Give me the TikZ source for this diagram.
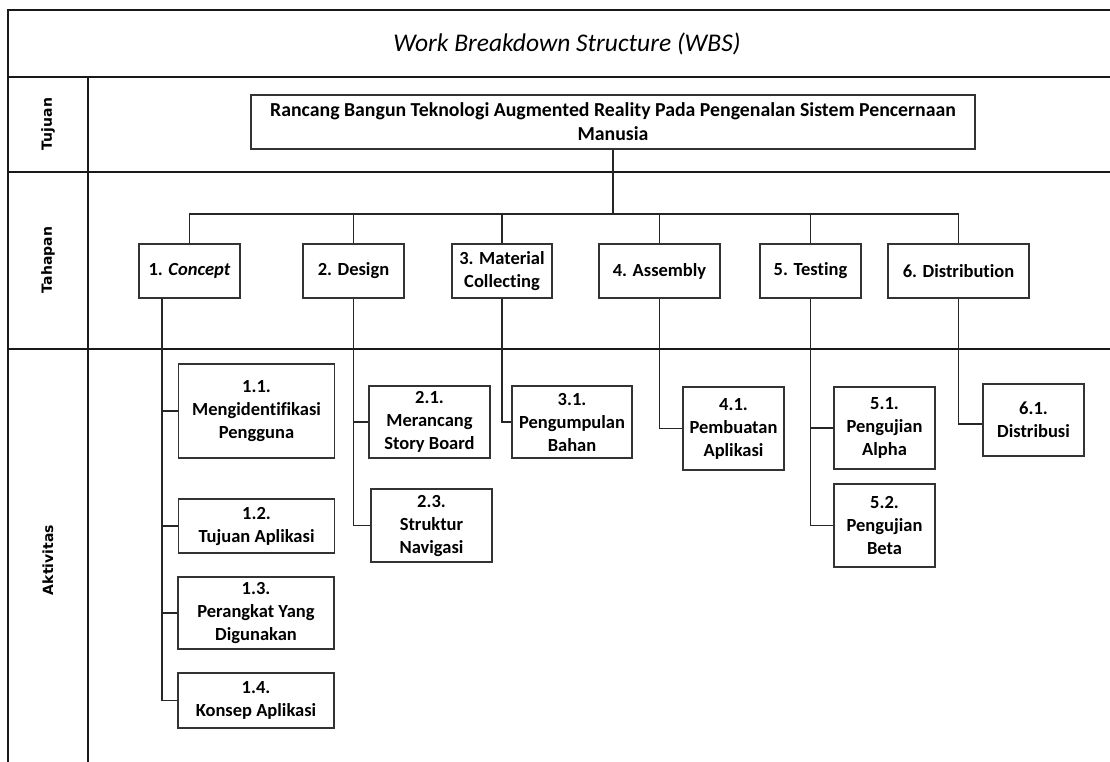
\documentclass[tikz,border=0pt]{standalone}
\usepackage{fontspec}
\setmainfont{Carlito}[Ligatures=NoCommon]
\newfontfamily\labelfont{DejaVu Sans}
\begin{document}
\begin{tikzpicture}[x=1pt,y=-1pt,
  frame/.style={line width=1.4pt, black!90},
  box/.style={draw=black!80, line width=1.2pt, fill=white, align=center, inner sep=2pt,
    font=\fontsize{18.5}{23}\selectfont\bfseries},
  conn/.style={line width=1.1pt, black!85},
  rowlabel/.style={rotate=90, font=\labelfont\bfseries\fontsize{14}{16}\selectfont}]
\useasboundingbox (0,0) rectangle (1110,762);
% frame
\draw[frame] (1110,10) -- (8,10) -- (8,762);
\draw[frame] (8,77) -- (1110,77);
\draw[frame] (8,172) -- (1110,172);
\draw[frame] (8,349) -- (1110,349);
\draw[frame] (88,77) -- (88,762);
% title and row labels
\node[font=\fontsize{25.5}{30}\selectfont\itshape] (title) at (567,44) {Work Breakdown Structure (WBS)};
\node[rowlabel] (ltujuan) at (48,124) {Tujuan};
\node[rowlabel] (ltahapan) at (48,260) {Tahapan};
\node[rowlabel] (laktivitas) at (48,560) {Aktivitas};
% goal
\node[box, minimum width=724pt, minimum height=54pt, font=\fontsize{19.8}{24}\selectfont\bfseries] (main) at (613,122)
  {Rancang Bangun Teknologi Augmented Reality Pada Pengenalan Sistem Pencernaan\\Manusia};
% stages
\node[box, minimum width=101pt, minimum height=54pt] (c1) at (189.5,271) {1. \textit{Concept}};
\node[box, minimum width=101pt, minimum height=54pt] (c2) at (353.5,271) {2. Design};
\node[box, minimum width=100pt, minimum height=54pt] (c3) at (502,271) {3. Material\\Collecting};
\node[box, minimum width=121pt, minimum height=54pt] (c4) at (659.5,271) {4. Assembly};
\node[box, minimum width=101pt, minimum height=54pt] (c5) at (810.5,271) {5. Testing};
\node[box, minimum width=141pt, minimum height=54pt] (c6) at (958.5,271) {6. Distribution};
% activities
\node[box, minimum width=156pt, minimum height=94pt] (a11) at (256.5,411) {1.1.\\Mengidentifikasi\\Pengguna};
\node[box, minimum width=156pt, minimum height=54pt] (a12) at (256.5,526) {1.2.\\Tujuan Aplikasi};
\node[box, minimum width=156pt, minimum height=72pt] (a13) at (256,613) {1.3.\\Perangkat Yang\\Digunakan};
\node[box, minimum width=156pt, minimum height=55pt] (a14) at (256,700.5) {1.4.\\Konsep Aplikasi};
\node[box, minimum width=121pt, minimum height=72pt] (a21) at (429.5,422) {2.1.\\Merancang\\Story Board};
\node[box, minimum width=121pt, minimum height=73pt] (a23) at (431.5,525.5) {2.3.\\Struktur\\Navigasi};
\node[box, minimum width=120pt, minimum height=72pt] (a31) at (572,422) {3.1.\\Pengumpulan\\Bahan};
\node[box, minimum width=101pt, minimum height=83pt] (a41) at (733.5,428.5) {4.1.\\Pembuatan\\Aplikasi};
\node[box, minimum width=101pt, minimum height=82pt] (a51) at (884.5,428) {5.1.\\Pengujian\\Alpha};
\node[box, minimum width=101pt, minimum height=83pt] (a52) at (884.5,525.5) {5.2.\\Pengujian\\Beta};
\node[box, minimum width=101pt, minimum height=72pt] (a61) at (1033.5,420) {6.1.\\Distribusi};
% connectors: goal to stages
\coordinate (bus) at (0,214);
\draw[conn] (main.south) -- (main.south |- bus);
\draw[conn] (c1.north) -- (c1.north |- bus) -- (c6.north |- bus) -- (c6.north);
\draw[conn] (c2.north) -- (c2.north |- bus);
\draw[conn] (c3.north) -- (c3.north |- bus);
\draw[conn] (c4.north) -- (c4.north |- bus);
\draw[conn] (c5.north) -- (c5.north |- bus);
% stage 1
\coordinate (s1) at (162,298);
\draw[conn] (s1) -- (s1 |- a14.west) -- (a14.west);
\draw[conn] (s1 |- a11.west) -- (a11.west);
\draw[conn] (s1 |- a12.west) -- (a12.west);
\draw[conn] (s1 |- a13.west) -- (a13.west);
% stage 2
\draw[conn] (c2.south) |- (a23.west);
\draw[conn] (c2.south |- a21.west) -- (a21.west);
% stage 3
\draw[conn] (c3.south) |- (a31.west);
% stage 4
\draw[conn] (c4.south) |- (a41.west);
% stage 5
\draw[conn] (c5.south) |- (a52.west);
\draw[conn] (c5.south |- a51.west) -- (a51.west);
% stage 6
\draw[conn] (c6.south) |- ([yshift=-4pt]a61.west);
\end{tikzpicture}
\end{document}
